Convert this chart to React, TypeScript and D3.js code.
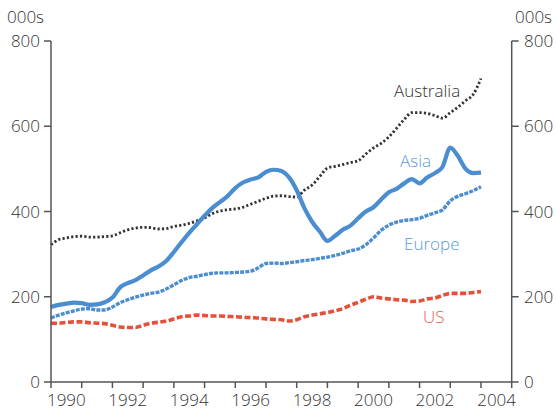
import React, { useEffect, useRef } from "react";
import * as d3 from "d3";

const START_YEAR = 1990;
const QUARTERS = 57; // 1990 Q1 .. 2004 Q1
const dates: number[] = Array.from({ length: QUARTERS }, (_, i) => START_YEAR + i * 0.25);

const australia: number[] = [
  322, 334, 338, 341, 342, 340, 340, 341, 343, 350, 357, 361, 363, 362, 359, 360,
  365, 368, 372, 378, 385, 395, 401, 404, 406, 410, 417, 424, 431, 436, 437, 435,
  434, 450, 462, 482, 502, 506, 510, 515, 519, 535, 549, 560, 575, 595, 616, 632,
  632, 630, 625, 619, 632, 645, 660, 675, 712,
];
const asia: number[] = [
  176, 181, 184, 186, 185, 181, 182, 187, 198, 222, 232, 239, 250, 262, 271, 284,
  305, 328, 350, 370, 390, 408, 422, 436, 455, 468, 475, 480, 493, 498, 495, 480,
  450, 408, 376, 353, 331, 343, 357, 367, 384, 400, 410, 428, 445, 453, 466, 476,
  466, 480, 490, 505, 550, 530, 500, 490, 491,
];
const europe: number[] = [
  150, 157, 162, 167, 171, 172, 169, 169, 176, 186, 193, 199, 204, 208, 211, 218,
  228, 238, 245, 248, 252, 255, 256, 256, 257, 258, 260, 268, 278, 279, 278, 280,
  282, 285, 287, 290, 293, 297, 302, 308, 312, 322, 338, 356, 368, 375, 379, 381,
  384, 391, 397, 404, 425, 436, 442, 449, 458,
];
const us: number[] = [
  138, 138, 140, 141, 141, 139, 138, 137, 133, 129, 128, 128, 133, 138, 140, 143,
  148, 153, 155, 157, 156, 155, 155, 154, 153, 152, 151, 150, 148, 147, 146, 143,
  146, 153, 157, 160, 163, 167, 172, 180, 187, 194, 200, 197, 195, 193, 192, 189,
  190, 195, 197, 203, 208, 208, 208, 210, 212,
];

const yTicks: number[] = [0, 200, 400, 600, 800];
const xTickYears: number[] = d3.range(1990, 2006);
const xLabelYears: number[] = [1990, 1992, 1994, 1996, 1998, 2000, 2002, 2004];

const W = 556;
const H = 410;
const FONT = "'Open Sans', 'Noto Sans', sans-serif";

export default function App() {
  const ref = useRef<SVGSVGElement>(null);

  useEffect(() => {
    const svg = d3.select(ref.current);
    svg.selectAll("*").remove();

    const x = d3.scaleLinear().domain([1990, 2005]).range([51, 511.7]);
    const y = d3.scaleLinear().domain([0, 800]).range([382, 41]);
    const axisColor = "#555";

    const series = [
      { name: "US", values: us, color: "#e5503b", width: 3.6, dash: "6,2.5" },
      { name: "Europe", values: europe, color: "#4a8dd0", width: 3.4, dash: "4,1.2" },
      { name: "Australia", values: australia, color: "#333", width: 2.8, dash: "2.2,2.2" },
      { name: "Asia", values: asia, color: "#4a8dd0", width: 4.2, dash: null as string | null },
    ];

    const line = d3
      .line<number>()
      .x((_, i) => x(dates[i]))
      .y((d) => y(d))
      .curve(d3.curveMonotoneX);

    const g = svg.append("g");
    series.forEach((s) => {
      const p = g
        .append("path")
        .attr("d", line(s.values))
        .attr("fill", "none")
        .attr("stroke", s.color)
        .attr("stroke-width", s.width)
        .attr("stroke-linejoin", "round");
      if (s.dash) p.attr("stroke-dasharray", s.dash);
    });

    // axes
    const ax = svg.append("g").attr("stroke", axisColor).attr("stroke-width", 1.5);
    ax.append("line").attr("x1", x(1990)).attr("x2", x(1990)).attr("y1", y(800)).attr("y2", y(0));
    ax.append("line").attr("x1", x(2005)).attr("x2", x(2005)).attr("y1", y(800)).attr("y2", y(0));
    ax.append("line").attr("x1", x(1990)).attr("x2", x(2005)).attr("y1", y(0)).attr("y2", y(0));

    yTicks.forEach((t) => {
      ax.append("line").attr("x1", x(1990) - 7).attr("x2", x(1990)).attr("y1", y(t)).attr("y2", y(t));
      ax.append("line").attr("x1", x(2005)).attr("x2", x(2005) + 7).attr("y1", y(t)).attr("y2", y(t));
    });
    xTickYears.forEach((t) => {
      ax.append("line").attr("x1", x(t)).attr("x2", x(t)).attr("y1", y(0)).attr("y2", y(0) + 6);
    });

    const txt = svg
      .append("g")
      .attr("font-family", FONT)
      .attr("font-size", 17)
      .attr("font-weight", 300)
      .attr("fill", "#333");
    yTicks.forEach((t) => {
      txt.append("text").attr("x", 40).attr("y", y(t) + 6).attr("text-anchor", "end").text(String(t));
      txt.append("text").attr("x", 524).attr("y", y(t) + 6).attr("text-anchor", "start").text(String(t));
    });
    txt.append("text").attr("x", 7).attr("y", 23).text("000s");
    txt.append("text").attr("x", 515).attr("y", 23).text("000s");
    xLabelYears.forEach((t) => {
      const isLast = t === 2004;
      txt
        .append("text")
        .attr("x", isLast ? 516 : x(t + 0.5))
        .attr("y", 406)
        .attr("text-anchor", isLast ? "end" : "middle")
        .text(String(t));
    });

    const labels = [
      { text: "Australia", x: 394, y: 97, color: "#333" },
      { text: "Asia", x: 400, y: 167, color: "#5b9bd8" },
      { text: "Europe", x: 404, y: 250, color: "#5b9bd8" },
      { text: "US", x: 423, y: 323, color: "#e8604c" },
    ];
    labels.forEach((l) => {
      txt.append("text").attr("x", l.x).attr("y", l.y).attr("fill", l.color).text(l.text);
    });
  }, []);

  return (
    <svg
      ref={ref}
      width={W}
      height={H}
      style={{ position: "absolute", left: 0, top: 0, background: "#fff" }}
    />
  );
}
